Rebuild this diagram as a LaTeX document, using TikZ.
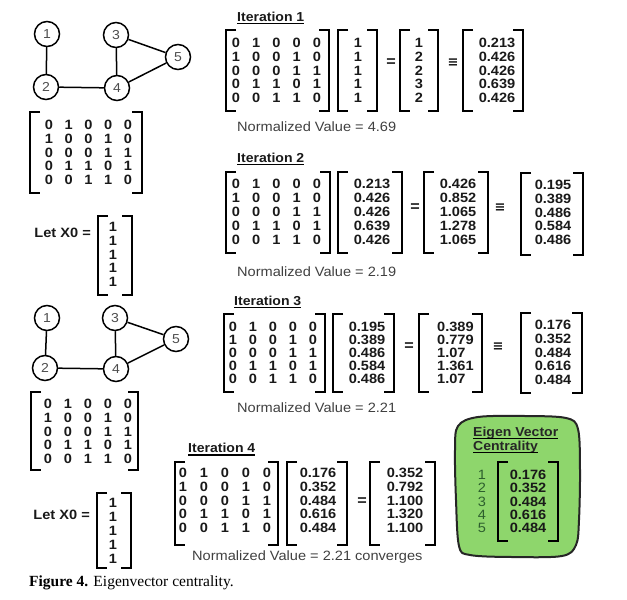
\documentclass[tikz,border=0pt]{standalone}
\usepackage{fontspec}
\setmainfont{Liberation Sans}[FakeStretch=1.08]
\newfontfamily\capfont{Liberation Serif}
\newfontfamily\symfont{DejaVu Sans}
\usetikzlibrary{calc}
\definecolor{blobgreen}{RGB}{142,214,108}
\definecolor{darktxt}{RGB}{25,25,25}
\definecolor{grtxt}{RGB}{45,95,45}
\tikzset{
 num/.style={font=\fontsize{13.5}{13.5}\selectfont\bfseries, inner sep=0pt, text=darktxt},
 opsym/.style={font=\fontsize{15}{15}\selectfont\bfseries, inner sep=0pt, text=darktxt},
 idsym/.style={font=\symfont\fontsize{13}{13}\selectfont\bfseries, inner sep=0pt, text=darktxt},
 plaintxt/.style={font=\fontsize{13.5}{14}\selectfont, inner sep=0pt, text=black!75, anchor=west},
 ttl/.style={font=\fontsize{13}{14}\selectfont\bfseries, inner sep=0pt, anchor=west, text=darktxt},
 vtx/.style={circle, draw, line width=1.5pt, minimum size=25pt, inner sep=0pt, font=\fontsize{13}{13}\selectfont, text=black!70},
 edgeln/.style={line width=1.5pt},
 brk/.style={line width=2.3pt},
 uline/.style={line width=1.3pt},
}
% brackets: x1 y1 x2 y2
\newcommand\brkt[4]{%
 \draw[brk] ({#1+10},#2) -- (#1,#2) -- (#1,#4) -- ({#1+10},#4);
 \draw[brk] ({#3-10},#2) -- (#3,#2) -- (#3,#4) -- ({#3-10},#4);}
% adjacency matrix: name x0 y0 dx dy
\newcommand\adjm[5]{%
 \foreach \row [count=\i] in {{0,1,0,0,0},{1,0,0,1,0},{0,0,0,1,1},{0,1,1,0,1},{0,0,1,1,0}}{
  \foreach \v [count=\j] in \row {
   \node[num] (#1-\i-\j) at ({#2+(\j-1)*#4},{#3+(\i-1)*#5}) {\v};}}}
% vector: name x y0 dy anchor list
\newcommand\vect[6]{%
 \foreach \v [count=\i] in {#6} {\node[num, anchor=#5] (#1-\i) at ({#2},{#3+(\i-1)*#4}) {\v};}}
\newcommand\uln[1]{\draw[uline] ([yshift=-2.2pt]#1.base west) -- ([yshift=-2.2pt]#1.base east);}

\begin{document}
\begin{tikzpicture}[x=1pt,y=-1pt]
\useasboundingbox (0,0) rectangle (627,600);

% ---------- graph 1 ----------
\node[vtx] (a1) at (47,34) {1};
\node[vtx] (a3) at (116,35) {3};
\node[vtx] (a5) at (178,57) {5};
\node[vtx] (a2) at (46,87) {2};
\node[vtx] (a4) at (117,88) {4};
\draw[edgeln] (a1) -- (a2);
\draw[edgeln] (a2) -- (a4);
\draw[edgeln] (a3) -- (a4);
\draw[edgeln] (a3) -- (a5);
\draw[edgeln] (a4) -- (a5);

\brkt{30}{112}{142}{193}
\adjm{ma}{49}{125}{19.75}{13.75}

\node[num, anchor=east] (letA) at (91,233) {Let X0 =};
\brkt{98}{216}{132}{295}
\vect{xa}{113}{227}{13.75}{center}{1,1,1,1,1}

% ---------- graph 2 ----------
\node[vtx] (b1) at (47,318) {1};
\node[vtx] (b3) at (115,318) {3};
\node[vtx] (b5) at (176,339) {5};
\node[vtx] (b2) at (45,368) {2};
\node[vtx] (b4) at (116,369) {4};
\draw[edgeln] (b1) -- (b2);
\draw[edgeln] (b2) -- (b4);
\draw[edgeln] (b3) -- (b4);
\draw[edgeln] (b3) -- (b5);
\draw[edgeln] (b4) -- (b5);

\brkt{31}{392}{138}{470}
\adjm{mb}{48}{404}{20}{13.75}

\node[num, anchor=east] (letB) at (90,515) {Let X0 =};
\brkt{97}{493}{131}{568}
\vect{xb}{113}{503}{14}{center}{1,1,1,1,1}

% ---------- iteration 1 ----------
\node[ttl] (t1) at (237,17) {Iteration 1}; \uln{t1}
\brkt{226}{30}{329}{111}
\adjm{m1}{236}{43}{20.25}{13.75}
\brkt{338}{30}{377}{111}
\vect{v1a}{358}{43}{13.75}{center}{1,1,1,1,1}
\node[opsym] (eq1) at (391,63) {=};
\brkt{400}{30}{438}{111}
\vect{v1b}{419}{43}{13.75}{center}{1,2,2,3,2}
\node[idsym] (id1) at (453,63) {≡};
\brkt{463}{30}{523}{111}
\vect{v1c}{497}{43}{13.75}{center}{0.213,0.426,0.426,0.639,0.426}
\node[plaintxt] (n1) at (237,127) {Normalized Value = 4.69};

% ---------- iteration 2 ----------
\node[ttl] (t2) at (237,158) {Iteration 2}; \uln{t2}
\brkt{226}{172}{330}{253}
\adjm{m2}{236}{184}{20.25}{14}
\brkt{338}{172}{402}{253}
\vect{v2a}{372}{184}{14}{center}{0.213,0.426,0.426,0.639,0.426}
\node[opsym] (eq2) at (415,208) {=};
\brkt{424}{172}{488}{253}
\vect{v2b}{458}{184}{14}{center}{0.426,0.852,1.065,1.278,1.065}
\node[idsym] (id2) at (500,208) {≡};
\brkt{521}{173}{583}{255}
\vect{v2c}{553}{185}{13.75}{center}{0.195,0.389,0.486,0.584,0.486}
\node[plaintxt] (n2) at (237,272) {Normalized Value = 2.19};

% ---------- iteration 3 ----------
\node[ttl] (t3) at (234,301) {Iteration 3}; \uln{t3}
\brkt{224}{314}{325}{392}
\adjm{m3}{233}{327}{20}{13}
\brkt{333}{314}{394}{392}
\vect{v3a}{367}{327}{13}{center}{0.195,0.389,0.486,0.584,0.486}
\node[opsym] (eq3) at (409,347) {=};
\brkt{419}{314}{482}{392}
\vect{v3b}{437}{327}{13}{west}{0.389,0.779,1.07,1.361,1.07}
\node[idsym] (id3) at (498,347) {≡};
\brkt{521}{313}{582}{393}
\vect{v3c}{553}{325}{13.75}{center}{0.176,0.352,0.484,0.616,0.484}
\node[plaintxt] (n3) at (237,408) {Normalized Value = 2.21};

% ---------- iteration 4 ----------
\node[ttl] (t4) at (188,448) {Iteration 4}; \uln{t4}
\brkt{175}{462}{278}{545}
\adjm{m4}{183}{473}{21}{13.75}
\brkt{287}{462}{347}{545}
\vect{v4a}{318}{473}{13.75}{center}{0.176,0.352,0.484,0.616,0.484}
\node[opsym] (eq4) at (362,502) {=};
\brkt{370}{462}{435}{545}
\vect{v4b}{405}{473}{13.75}{center}{0.352,0.792,1.100,1.320,1.100}
\node[plaintxt] (n4) at (192,557) {Normalized Value = 2.21 converges};

% ---------- eigenvector centrality box ----------
\draw[line width=2pt, fill=blobgreen, draw=black!85] plot[smooth cycle, tension=0.55] coordinates {
 (478,417) (525,416) (566,418) (578,429) (580,470) (579,520) (576,545) (562,556)
 (512,557) (470,555) (459,546) (456,500) (455,450) (458,426)};
\node[ttl, text=black!85] (ec1) at (473,433) {Eigen Vector}; \uln{ec1}
\node[ttl, text=black!85] (ec2) at (473,447) {Centrality}; \uln{ec2}
\foreach \k [count=\i] in {1,2,3,4,5} {
 \node[font=\fontsize{13.5}{13.5}\selectfont, inner sep=0pt, text=grtxt] (ecn-\i) at (482,{475+(\i-1)*13.25}) {\k};}
\brkt{498}{462}{558}{541}
\vect{ecv}{528}{475}{13.25}{center}{0.176,0.352,0.484,0.616,0.484}

% ---------- caption ----------
\node[anchor=west, inner sep=0pt, font=\capfont\fontsize{15.5}{16}\selectfont] (cap) at (29,583) {\textbf{Figure 4.} Eigenvector centrality.};
\end{tikzpicture}
\end{document}
